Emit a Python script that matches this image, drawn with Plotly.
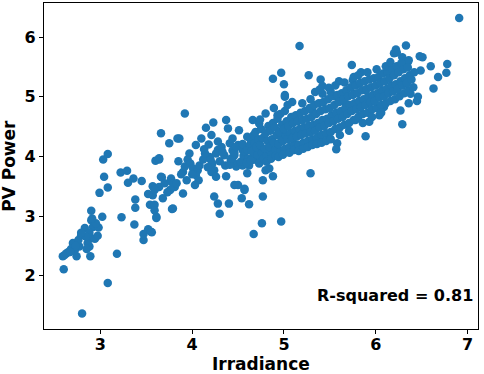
import plotly.graph_objects as go

# ---- data (Irradiance vs PV Power) ----
low_x = [2.80,2.60,2.59,3.08,3.18,2.89,2.74,2.65,2.70,2.77,2.79,2.83,2.90,2.90,2.92,2.98,2.90,2.88,2.72,2.76,
         3.02,2.99,3.08,3.04,3.03,3.08,2.63,2.68,2.73,2.86,2.88,2.95,2.94,2.84,2.61,2.67,2.79,2.85,2.91,2.97]
low_y = [1.37,2.11,2.33,1.88,2.37,2.33,2.33,2.40,2.55,2.49,2.68,2.80,2.93,3.09,2.82,2.81,2.63,2.49,2.43,2.60,
         2.99,3.39,3.48,3.66,3.95,4.04,2.38,2.45,2.50,2.55,2.72,2.88,2.62,2.66,2.35,2.40,2.72,2.45,2.96,2.67]

mid_x = [3.23,3.22,3.29,3.30,3.36,3.45,3.38,3.38,3.37,3.47,3.47,3.52,3.56,3.54,3.59,3.57,3.52,3.59,3.61,3.57,
         3.66,3.60,3.64,3.66,3.64,3.55,3.61,3.67,3.59,3.64,3.92,3.86,3.97,3.77,3.81,3.90,3.92,3.79,3.78,3.77,
         3.79,3.76,3.84,3.83,3.75,3.85,3.88,3.95,3.98,3.94,3.70,3.73,3.68]
mid_y = [2.98,3.73,3.76,3.56,3.63,3.59,3.28,3.14,2.86,2.60,2.70,2.78,2.73,3.19,3.19,3.35,3.37,3.10,2.97,3.50,
         4.39,3.93,3.95,3.66,3.49,2.74,2.99,3.65,3.44,3.97,4.72,4.30,4.05,3.63,3.49,3.74,3.83,3.13,3.12,3.58,
         3.55,3.44,4.30,3.55,4.22,3.92,3.70,3.95,3.88,3.60,3.55,3.40,3.30]

segb_x = [4.23,4.37,4.15,4.39,4.21,4.10,4.04,4.01,4.06,4.07,4.04,4.19,4.22,4.24,4.21,4.26,4.37,4.28,4.32,4.35,
          4.42,4.46,4.41,4.50,4.24,4.28,4.30,4.40,4.48,4.51,4.00,4.03,4.08,4.12,4.14,4.17,3.90,
          4.13,4.18,4.26,4.30,4.33,4.36,4.44,4.45,4.20,4.28]
segb_y = [4.57,4.61,4.48,4.47,4.36,4.30,4.19,3.80,3.77,3.60,3.69,3.99,3.88,3.77,3.74,3.66,3.67,4.11,4.16,4.02,
          3.94,4.02,4.22,4.19,3.33,3.21,3.04,3.21,3.83,4.44,3.70,3.52,3.85,3.95,4.05,3.82,3.38,
          4.12,4.20,4.05,3.92,4.08,3.85,4.10,3.90,3.95,4.25]

segc_x = [4.55,4.60,4.66,4.73,4.80,4.93,5.01,4.50,4.57,4.54,4.62,4.60,4.62,4.55,4.77,4.77,4.88,4.76,4.67,4.97,
          4.70,4.77,4.80,4.70,4.84,4.97,4.88,5.00,5.01,5.09,5.20,5.27,5.29,4.46,4.57]
segc_y = [4.11,4.33,4.61,4.55,4.72,4.69,5.00,3.52,3.44,3.30,3.20,3.72,3.85,3.85,3.60,3.33,3.67,2.88,2.70,2.91,
          4.13,3.99,3.77,3.94,3.80,5.40,5.30,5.21,5.03,4.91,4.89,5.36,3.72,3.52,3.46]

segd_x = [5.74,5.40,5.42,5.60,5.75,5.84,5.89,5.58,5.57,5.31,5.42,5.51,5.57,5.67,5.78,5.93,6.04,6.09,5.76,5.89,
          6.91,6.33,6.22,6.48,6.51,6.78,6.60,6.49,6.77,6.68,6.63,6.46,6.45,6.36,6.29,6.27,6.38,6.35,6.29,6.20,
          6.23,6.36,5.17]
segd_y = [5.53,5.29,5.18,5.26,5.28,5.41,4.34,4.22,4.12,4.77,5.05,5.08,5.00,4.89,4.61,4.58,4.69,4.83,5.05,5.11,
          6.32,5.86,5.79,5.68,5.66,5.55,5.51,5.44,5.40,5.33,5.14,5.00,4.93,4.89,4.54,4.77,5.05,5.58,5.66,5.73,
          5.74,5.61,5.85]

band_x = [
    4.41,4.43,4.46,4.48,4.44,
    4.53,4.56,4.55,4.58,
    4.61,4.60,4.63,4.59,4.64,
    4.66,4.65,4.68,4.67,4.64,
    4.71,4.70,4.72,4.69,4.73,
    4.76,4.74,4.77,4.75,4.78,4.74,
    4.81,4.79,4.82,4.80,4.83,4.81,
    4.86,4.84,4.87,4.85,4.88,4.86,
    4.91,4.89,4.92,4.90,4.93,4.91,4.89,
    4.96,4.94,4.97,4.95,4.98,4.96,4.94,
    5.01,4.99,5.02,5.00,5.03,5.01,4.99,
    5.06,5.04,5.07,5.05,5.08,5.06,5.04,
    5.11,5.09,5.12,5.10,5.13,5.11,
    5.16,5.14,5.17,5.15,5.18,5.16,
    5.21,5.19,5.22,5.20,5.23,5.21,
    5.26,5.24,5.27,5.25,5.28,5.26,
    5.31,5.29,5.32,5.30,5.33,5.31,5.29,
    5.36,5.34,5.37,5.35,5.38,5.36,5.34,
    5.41,5.39,5.42,5.40,5.43,5.41,5.39,
    5.46,5.44,5.47,5.45,5.48,5.46,
    5.51,5.49,5.52,5.50,5.53,5.51,5.49,
    5.56,5.54,5.57,5.55,5.58,5.56,
    5.61,5.59,5.62,5.60,5.63,5.61,
    5.66,5.64,5.67,5.65,5.68,5.66,
    5.71,5.69,5.72,5.70,5.73,5.71,
    5.76,5.74,5.77,5.75,5.78,5.76,
    5.81,5.79,5.82,5.80,5.83,5.81,
    5.86,5.84,5.87,5.85,5.88,5.86,
    5.91,5.89,5.92,5.90,5.93,5.91,
    5.96,5.94,5.97,5.95,5.98,5.96,
    6.01,5.99,6.02,6.00,6.03,6.01,
    6.06,6.04,6.07,6.05,6.08,6.06,
    6.11,6.09,6.12,6.10,6.13,6.11,
    6.16,6.14,6.17,6.15,6.18,6.16,
    6.21,6.19,6.22,6.20,6.23,
    6.26,6.24,6.27,6.25,6.28,
    6.31,6.29,6.32,6.30,
    6.36,6.34,6.37,6.35,
    6.41,6.39,6.42,
]
band_y = [
    3.86,3.97,4.06,4.16,4.30,
    3.91,4.01,4.21,4.08,
    3.96,4.11,4.19,3.89,4.27,
    3.99,4.09,4.23,4.36,3.93,
    4.03,4.16,4.29,4.41,3.88,
    4.06,4.19,4.31,4.46,3.96,4.62,
    4.01,4.13,4.26,4.39,4.51,3.91,
    4.06,4.16,4.29,4.43,4.56,3.96,
    4.11,4.23,4.36,4.49,4.63,4.01,4.81,
    4.09,4.21,4.31,4.41,4.53,4.71,3.99,
    4.13,4.26,4.36,4.46,4.59,4.76,4.03,
    4.16,4.29,4.39,4.51,4.66,4.06,4.86,
    4.21,4.31,4.43,4.56,4.69,4.11,
    4.19,4.33,4.46,4.59,4.73,4.09,
    4.23,4.36,4.49,4.61,4.76,4.13,
    4.26,4.39,4.51,4.63,4.81,4.16,
    4.29,4.41,4.53,4.66,4.86,4.19,4.96,
    4.31,4.43,4.56,4.71,4.89,4.21,5.08,
    4.36,4.49,4.61,4.76,4.91,4.23,5.12,
    4.39,4.51,4.63,4.79,4.96,4.26,
    4.41,4.56,4.69,4.81,5.01,4.29,5.15,
    4.46,4.59,4.73,4.86,5.03,5.19,
    4.49,4.63,4.76,4.91,5.06,4.36,
    4.53,4.66,4.81,4.96,5.11,5.24,
    4.56,4.71,4.86,5.01,5.16,4.43,
    4.61,4.76,4.89,5.03,5.19,5.33,
    4.66,4.79,4.93,5.06,5.23,5.36,
    4.71,4.83,4.96,5.11,5.26,4.56,
    4.73,4.86,5.01,5.13,5.29,5.41,
    4.79,4.91,5.03,5.16,5.31,4.66,
    4.81,4.93,5.06,5.19,5.33,5.46,
    4.86,4.99,5.11,5.23,5.39,4.73,
    4.89,5.01,5.13,5.26,5.41,5.51,
    4.93,5.06,5.19,5.31,5.46,5.58,
    4.96,5.09,5.21,5.36,5.51,
    5.01,5.13,5.26,5.41,5.56,
    5.06,5.19,5.31,5.46,
    5.11,5.23,5.36,5.49,
    5.16,5.29,5.41,
]

r_squared_label = "R-squared = 0.81"
x_title = "Irradiance"
y_title = "PV Power"
x_ticks = [3, 4, 5, 6, 7]
y_ticks = [2, 3, 4, 5, 6]

xs = low_x + mid_x + segb_x + segc_x + segd_x + band_x
ys = low_y + mid_y + segb_y + segc_y + segd_y + band_y

FONT = "DejaVu Sans"

fig = go.Figure()
fig.add_trace(go.Scatter(
    x=xs, y=ys, mode="markers",
    marker=dict(size=8.5, color="#1f77b4", line=dict(width=0)),
    showlegend=False,
))

axis_common = dict(
    showgrid=False, zeroline=False, automargin=False,
    showline=True, linecolor="black", linewidth=1.2, mirror=True,
    ticks="outside", ticklen=4, tickwidth=1.2, tickcolor="black",
    tickfont=dict(family=FONT, size=16, color="black", weight="bold"),
)

fig.update_layout(
    width=484, height=374,
    margin=dict(l=44, r=6, t=3, b=45),
    paper_bgcolor="white", plot_bgcolor="white",
    font=dict(family=FONT, color="black"),
    xaxis=dict(range=[2.385, 7.115], tickvals=x_ticks, ticklabelstandoff=-3, **axis_common),
    yaxis=dict(range=[1.11, 6.57], tickvals=y_ticks, **axis_common),
    annotations=[
        dict(text=f"<b>{r_squared_label}</b>", xref="paper", yref="paper",
             x=0.993, y=0.104, xanchor="right", yanchor="middle", showarrow=False,
             font=dict(family=FONT, size=16, color="black")),
        dict(text=f"<b>{x_title}</b>", xref="paper", yref="paper",
             x=0.5, y=-0.108, xanchor="center", yanchor="middle", showarrow=False,
             borderpad=0, font=dict(family=FONT, size=17, color="black")),
        dict(text=f"<b>{y_title}</b>", xref="paper", yref="paper",
             x=-0.081, y=0.5, xanchor="center", yanchor="middle", showarrow=False,
             textangle=-90, font=dict(family=FONT, size=17, color="black")),
    ],
)

fig.write_html("out.html", config={"displayModeBar": False},
               post_script="document.body.style.margin='0';document.body.style.overflow='hidden';")
